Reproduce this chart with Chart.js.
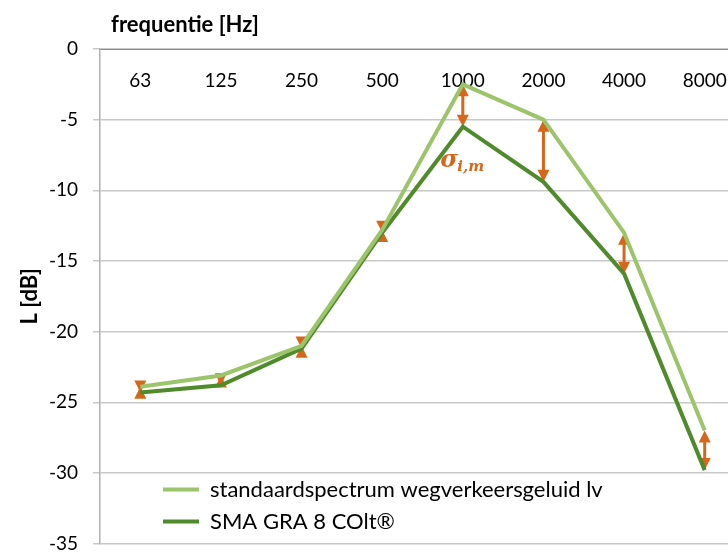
<!DOCTYPE html>
<html>
<head>
<meta charset="utf-8">
<script src="https://cdn.jsdelivr.net/npm/chart.js@4.4.1/dist/chart.umd.min.js"></script>
<style>
  html, body { margin: 0; padding: 0; background: #fff; overflow: hidden; }
  #wrap { position: relative; width: 770px; height: 570px; }
</style>
</head>
<body>
<div id="wrap"><canvas id="myChart"></canvas></div>
<script>
const categories = ['63', '125', '250', '500', '1000', '2000', '4000', '8000'];
const standaard = [-23.9, -23.1, -21.0, -12.8, -2.5, -5.0, -13.0, -27.0];
const smaGra = [-24.3, -23.8, -21.2, -13.0, -5.5, -9.4, -15.9, -29.8];
const seriesNames = ['standaardspectrum wegverkeersgeluid lv', 'SMA GRA 8 COlt®'];

const lightGreen = '#9CC46A';
const darkGreen = '#4F8A2B';
const orange = '#D6671A';
const fontFam = 'Lato, Calibri, sans-serif';

const ctx = document.getElementById('myChart');

// orange double arrows between the two spectra
const arrows = {
  id: 'arrows',
  beforeDatasetsDraw: (chart) => {
    const {ctx, scales: {x, y}} = chart;
    ctx.save();
    ctx.strokeStyle = orange;
    ctx.fillStyle = orange;
    ctx.lineWidth = 3;
    for (let i = 0; i < categories.length; i++) {
      const px = x.getPixelForValue(i);
      const y1 = y.getPixelForValue(standaard[i]);
      const y2 = y.getPixelForValue(smaGra[i]);
      ctx.beginPath();
      ctx.moveTo(px, y1 + 6);
      ctx.lineTo(px, y2 - 6);
      ctx.stroke();
      ctx.beginPath();
      ctx.moveTo(px, y1);
      ctx.lineTo(px - 6, y1 + 12);
      ctx.lineTo(px + 6, y1 + 12);
      ctx.closePath();
      ctx.fill();
      ctx.beginPath();
      ctx.moveTo(px, y2);
      ctx.lineTo(px - 6, y2 - 12);
      ctx.lineTo(px + 6, y2 - 12);
      ctx.closePath();
      ctx.fill();
    }
    ctx.restore();
  },
  afterDatasetsDraw: (chart) => {
    const {ctx, scales: {x, y}} = chart;
    const px = x.getPixelForValue(3.72);
    const py = y.getPixelForValue(-8.0);
    ctx.save();
    ctx.fillStyle = orange;
    ctx.textBaseline = 'middle';
    ctx.textAlign = 'left';
    ctx.font = 'italic bold 24px "DejaVu Serif"';
    ctx.fillText('σ', px, py - 1);
    ctx.font = 'italic bold 15px "DejaVu Serif"';
    ctx.fillText('i,m', px + 17, py + 5);
    ctx.restore();
  }
};

// legend sits inside the plot, a bit right of the y axis
const legendShift = {
  id: 'legendShift',
  afterLayout: (chart) => {
    const lg = chart.legend;
    lg.left += 53;
    lg.right += 53;
    lg.top += 48;
    lg.bottom += 48;
  }
};

new Chart(ctx, {
  type: 'line',
  data: {
    labels: categories,
    datasets: [
      {
        label: seriesNames[0],
        data: standaard,
        borderColor: lightGreen,
        backgroundColor: lightGreen,
        borderWidth: 4,
        pointRadius: 0,
        tension: 0
      },
      {
        label: seriesNames[1],
        data: smaGra,
        borderColor: darkGreen,
        backgroundColor: darkGreen,
        borderWidth: 4,
        pointRadius: 0,
        tension: 0
      }
    ]
  },
  options: {
    responsive: true,
    maintainAspectRatio: false,
    animation: false,
    layout: { padding: { left: 0, top: 0, right: 25, bottom: 21 } },
    scales: {
      x: {
        position: 'top',
        offset: true,
        grid: { display: false, drawTicks: false },
        border: { display: true, color: '#8C8C8C', width: 1 },
        ticks: {
          mirror: true,
          padding: 20,
          color: '#000',
          font: { family: fontFam, size: 19 },
          maxRotation: 0,
          autoSkip: false
        },
        title: {
          display: true,
          text: '\u2002frequentie [Hz]',
          align: 'start',
          color: '#000',
          font: { family: fontFam, size: 22, weight: 'bold' },
          padding: { top: 12, bottom: 0 }
        },
        afterFit: (scale) => { scale.height = 49; }
      },
      y: {
        min: -35,
        max: 0,
        ticks: {
          stepSize: 5,
          padding: 15,
          color: '#000',
          font: { family: fontFam, size: 19 }
        },
        grid: { color: '#C8C8C8', tickColor: '#C8C8C8', tickLength: 7, lineWidth: 1.5 },
        border: { display: true, color: '#B0B0B0', width: 1.5 },
        title: {
          display: true,
          text: 'L [dB]',
          color: '#000',
          font: { family: fontFam, size: 22, weight: 'bold' },
          padding: { top: 17, bottom: 0 }
        },
        afterFit: (scale) => { scale.width = 100; }
      }
    },
    plugins: {
      legend: {
        position: 'chartArea',
        align: 'end',
        labels: {
          color: '#000',
          font: { family: fontFam, size: 22 },
          boxWidth: 36,
          boxHeight: 4,
          padding: 10,
          generateLabels: (chart) => chart.data.datasets.map((ds, i) => ({
            text: ds.label,
            fillStyle: ds.borderColor,
            strokeStyle: ds.borderColor,
            lineWidth: 0,
            hidden: false,
            datasetIndex: i
          }))
        }
      },
      tooltip: { enabled: false }
    }
  },
  plugins: [arrows, legendShift]
});
</script>
</body>
</html>
